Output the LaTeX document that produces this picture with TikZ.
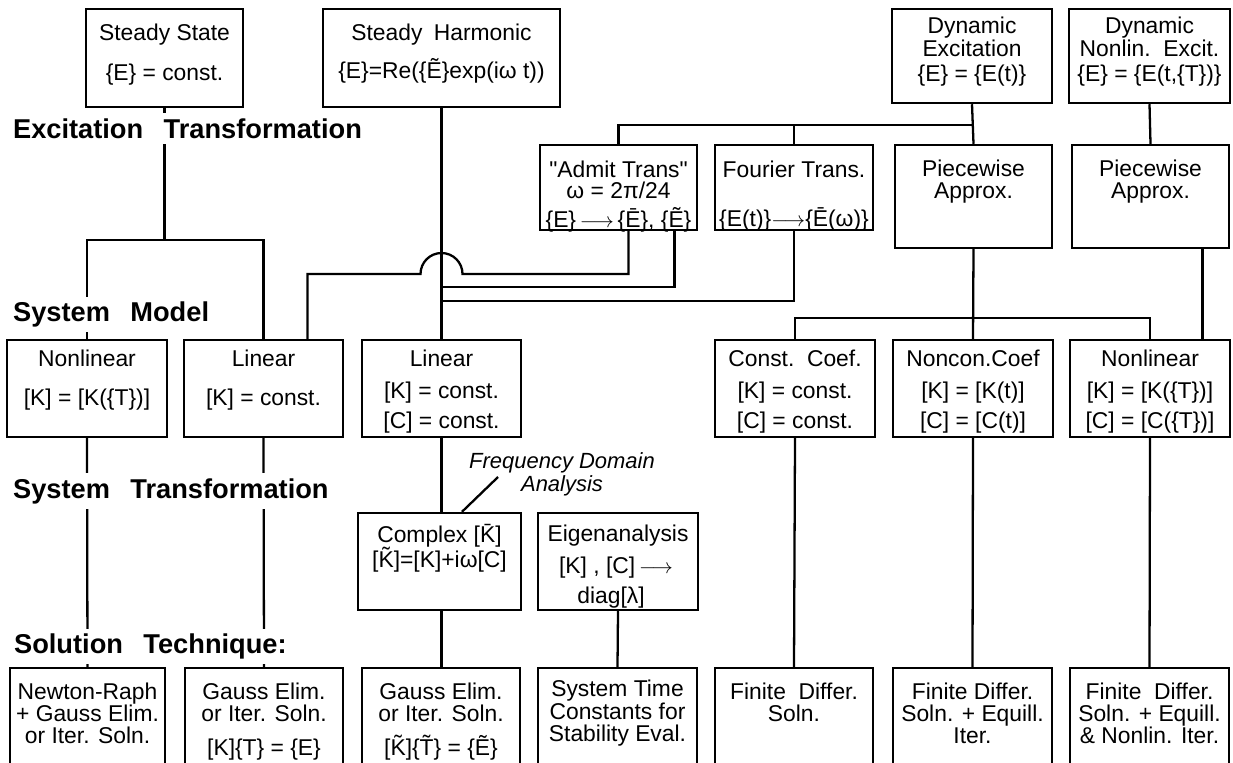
\documentclass[tikz,border=0pt]{standalone}
\usepackage{fontspec}
\setmainfont{Liberation Sans}
\usetikzlibrary{calc}

\newlength{\px}
\setlength{\px}{0.5691pt}
\newcommand{\boxfont}{\fontsize{13pt}{12.5pt}\selectfont}
\newcommand{\boxbody}[4]{\parbox[c][#2\px][t]{#1\px}{\centering\lineskiplimit=-100pt\vspace*{#3\px}#4}}
\newcommand{\lto}{\,$\longrightarrow$\,}

\begin{document}
\begin{tikzpicture}[
      x=0.02cm, y=-0.02cm,
      box/.style   = {draw, line width=1.4pt, inner sep=0pt, font=\boxfont},
      link/.style  = {line width=1.3pt},
      stage/.style = {anchor=base west, fill=white, inner xsep=1pt, inner ysep=3pt,
                      font=\fontsize{15.5pt}{18pt}\selectfont\bfseries},
    ]
    \path[use as bounding box] (0,0) rectangle (1233,762);
    \clip (0,0) rectangle (1233,762);

    % excitation
    \node[box] (ss)      at (164.5,58)   {\boxbody{157}{98}{15}{Steady State\\[18\px]\{E\} = const.}};
    \node[box] (sh)      at (441.5,58)   {\boxbody{237}{98}{15}{Steady\hspace{0.5em}Harmonic\\[16\px]\{E\}=Re(\{\~{E}\}exp(iω t))}};
    \node[box] (dynE)    at (972,56)     {\boxbody{160}{94}{8}{Dynamic\\[1\px]Excitation\\[3\px]\{E\} = \{E(t)\}}};
    \node[box] (dynN)    at (1149.5,56)  {\boxbody{161}{94}{8}{Dynamic\\[1\px]Nonlin.\ \ Excit.\\[3\px]\{E\} = \{E(t,\{T\})\}}};
    \node[box] (admit)   at (618.5,187.5) {\boxbody{157}{85}{16}{\textquotedbl Admit Trans\textquotedbl\\[-1\px]ω = 2π/24\\[7\px]\{E\}\lto\{\={E}\}, \{\~{E}\}}};
    \node[box] (fourier) at (794,187.5)  {\boxbody{158}{85}{16}{Fourier Trans.\\[27\px]\{E(t)\}$\longrightarrow$\{\={E}(ω)\}}};
    \node[box] (pw1)     at (973.5,196.5) {\boxbody{157}{103}{15}{Piecewise\\Approx.}};
    \node[box] (pw2)     at (1150.5,196.5) {\boxbody{157}{103}{15}{Piecewise\\Approx.}};

    % system model
    \node[box] (nl1)  at (87,388.5)    {\boxbody{160}{97}{10}{Nonlinear\\[17\px][K] = [K(\{T\})]}};
    \node[box] (lin1) at (263.5,388.5) {\boxbody{159}{97}{10}{Linear\\[17\px][K] = const.}};
    \node[box] (lin3) at (441.5,388.5) {\boxbody{159}{97}{10}{Linear\\[10\px][K] = const.\\[8\px][C] = const.}};
    \node[box] (cc)   at (795,388.5)   {\boxbody{160}{97}{10}{Const.\ \ Coef.\\[10\px][K] = const.\\[8\px][C] = const.}};
    \node[box] (ncc)  at (973,388.5)   {\boxbody{160}{97}{10}{Noncon.Coef\\[10\px][K] = [K(t)]\\[8\px][C] = [C(t)]}};
    \node[box] (nl3)  at (1150,388.5)  {\boxbody{160}{97}{10}{Nonlinear\\[10\px][K] = [K(\{T\})]\\[8\px][C] = [C(\{T\})]}};

    % system transformation
    \node[box] (cplx)  at (439.5,561.5) {\boxbody{163}{97}{11}{Complex [\={K}]\\[3\px][\~{K}]=[K]+iω[C]}};
    \node[box] (eigen) at (618,561.5)   {\boxbody{160}{97}{12}{Eigenanalysis\\[10\px][K] , [C]\lto\hspace*{16\px}\\[8\px]diag[λ]\hspace*{14\px}}};
    \node[font=\fontsize{12.5pt}{13.1pt}\selectfont\itshape, align=center] (fda) at (562,474)
        {Frequency Domain\\Analysis};

    % solution technique
    \node[box] (newton) at (87.5,720)  {\boxbody{155}{104}{15}{Newton-Raph\\+ Gauss Elim.\\or Iter. Soln.}};
    \node[box] (g1)     at (264,720)   {\boxbody{158}{104}{15}{Gauss Elim.\\or Iter. Soln.\\[12\px][K]\{T\} = \{E\}}};
    \node[box] (g2)     at (441,720)   {\boxbody{158}{104}{15}{Gauss Elim.\\or Iter. Soln.\\[12\px][\~{K}]\{\~{T}\} = \{\~{E}\}}};
    \node[box] (sysT)   at (617.5,720) {\boxbody{159}{104}{12}{System Time\\[1\px]Constants for\\Stability Eval.}};
    \node[box] (fd1)    at (794,720)   {\boxbody{158}{104}{15}{Finite\ \ Differ.\\Soln.}};
    \node[box] (fd2)    at (972.5,720) {\boxbody{159}{104}{15}{Finite Differ.\\Soln. + Equill.\\Iter.}};
    \node[box] (fd3)    at (1149.5,720) {\boxbody{159}{104}{15}{Finite\ \ Differ.\\Soln. + Equill.\\\& Nonlin. Iter.}};

    % bus levels
    \coordinate (topBus) at (0,125);
    \coordinate (excBus) at (0,240);
    \coordinate (hopY)   at (0,274);
    \coordinate (cmpY)   at (0,287);
    \coordinate (fouY)   at (0,301);
    \coordinate (modBus) at (0,318);

    \draw[link] (ss.south) -- (ss.south |- excBus);
    \draw[link] (nl1.north) |- (lin1.north |- excBus) -- (lin1.north);
    \draw[link] (sh.south) -- (lin3.north);
    \draw[link] (admit.north) |- (dynE.south |- topBus);
    \draw[link] (fourier.north) -- (fourier.north |- topBus);
    \draw[link] (dynE.south) -- (pw1.north);
    \draw[link] (dynN.south) -- (pw2.north);
    % hop over the harmonic line
    \draw[link] ($(admit.south)+(10,0)$) |- ($(sh.south |- hopY)+(21,0)$)
        arc[start angle=0, end angle=180, radius=0.42cm]
        -- ($(lin1.north |- hopY)+(44,0)$) -- ($(lin1.north)+(44,0)$);
    \draw[link] ($(admit.south)+(56,0)$) |- (sh.south |- cmpY);
    \draw[link] (fourier.south) |- (sh.south |- fouY);
    \draw[link] (pw1.south) -- (ncc.north);
    \draw[link] (cc.north) |- (nl3.north |- modBus) -- (nl3.north);
    \draw[link] ($(pw2.south)+(52,0)$) coordinate (pwDrop) -- (pwDrop |- nl3.north);

    \draw[link] (nl1.south) -- (newton.north);
    \draw[link] (lin1.south) -- (g1.north);
    \draw[link] (lin3.south) -- (lin3.south |- cplx.north);
    \draw[link] (lin3.south |- cplx.south) -- (lin3.south |- g2.north);
    \draw[link] ($(fda.west)+(35,3)$) -- ($(cplx.north)+(22.5,0)$);
    \draw[link] (eigen.south) -- (sysT.north);
    \draw[link] (cc.south) -- (fd1.north);
    \draw[link] (ncc.south) -- (fd2.north);
    \draw[link] (nl3.south) -- (fd3.north);

    % stage labels
    \node[stage] (lblExc) at (11,138)   {Excitation\hspace{0.75em}Transformation};
    \node[stage] (lblMod) at (11,321.5) {System\hspace{0.75em}Model};
    \node[stage] (lblTra) at (11,498)   {System\hspace{0.75em}Transformation};
    \node[stage] (lblSol) at (12,653.5) {Solution\hspace{0.75em}Technique:};
  \end{tikzpicture}
\end{document}
